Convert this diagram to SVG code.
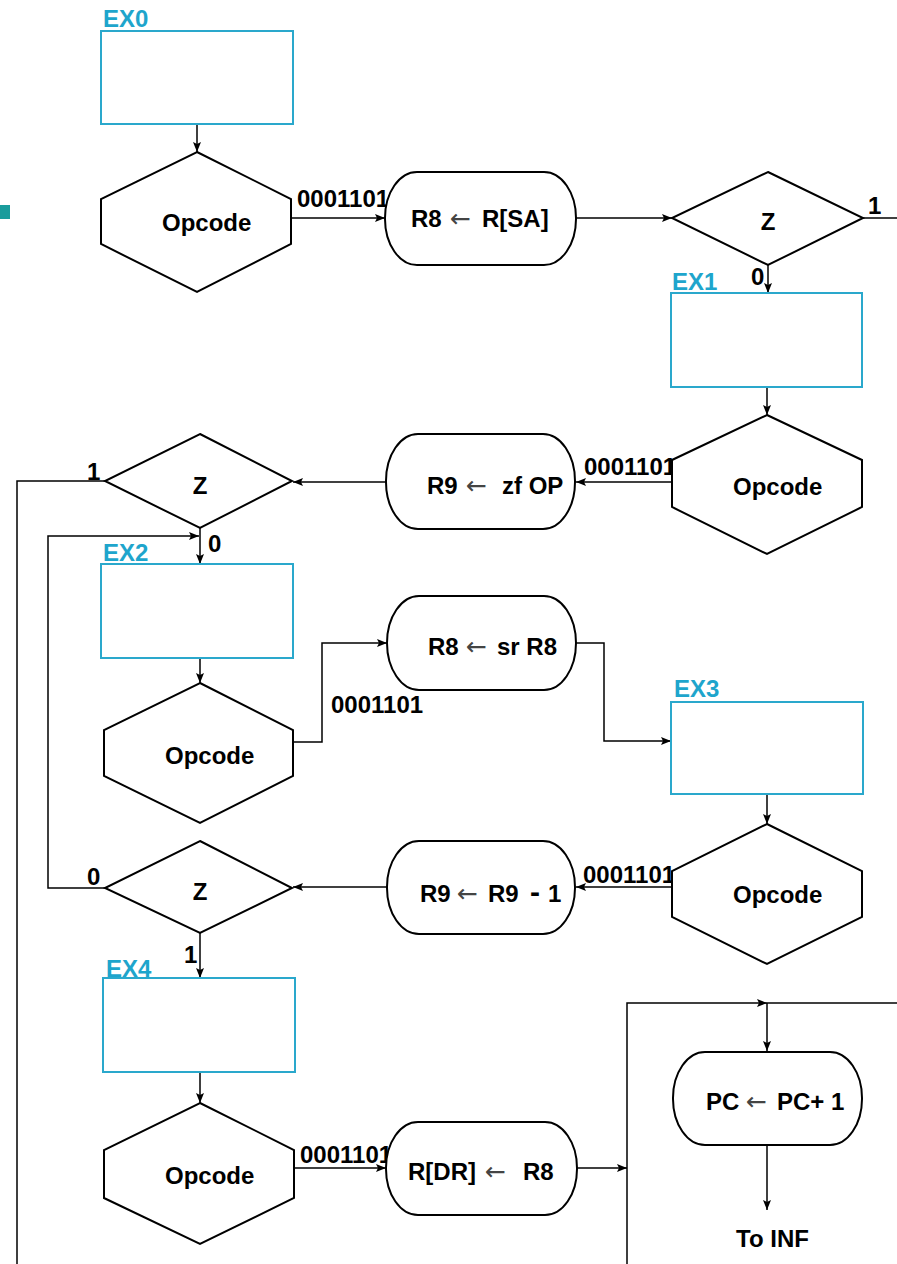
<svg xmlns="http://www.w3.org/2000/svg" width="897" height="1264" viewBox="0 0 897 1264">
<style>
.bg{fill:#fff}
.node{fill:#fff;stroke:#000;stroke-width:2}
.ex{fill:#fff;stroke:#2aa8cc;stroke-width:2}
.exl{fill:#1ea5cc;font-family:"Liberation Sans",Arial,sans-serif;font-weight:bold;font-size:24px}
.t{fill:#000;font-family:"Liberation Sans",Arial,sans-serif;font-weight:bold;font-size:24px}
.a{font-family:"DejaVu Sans",sans-serif;font-weight:normal;font-size:25px;fill:#444}
.m{font-size:30px}
.c{fill:none;stroke:#000;stroke-width:1.5}
.ca{fill:none;stroke:#000;stroke-width:1.5;marker-end:url(#ah)}
</style>
<defs>
<marker id="ah" markerUnits="userSpaceOnUse" markerWidth="11" markerHeight="8" refX="10" refY="4" orient="auto">
<path d="M0,0 L10,4 L0,8 L2,4 z" fill="#000"/>
</marker>
</defs>
<rect class="bg" x="0" y="0" width="897" height="1264"/>
<rect x="0" y="205" width="10" height="14" fill="#1a9c9c"/>

<g id="connectors">
<path class="ca" d="M197,124 V152"/>
<path class="ca" d="M291,218 H385"/>
<path class="ca" d="M576,218 H672"/>
<path class="c" d="M863,218 H897"/>
<path class="ca" d="M768,265 V293"/>
<path class="ca" d="M767,387 V415"/>
<path class="ca" d="M672,482 H576"/>
<path class="ca" d="M386,482 H293"/>
<path class="c" d="M105,481 H17 V1264"/>
<path class="ca" d="M200,528 V564"/>
<path class="ca" d="M105,888 H48 V536 H199"/>
<path class="ca" d="M200,658 V683"/>
<path class="ca" d="M293,742 H322 V643 H387"/>
<path class="ca" d="M576,643 H604 V741 H671"/>
<path class="ca" d="M767,794 V824"/>
<path class="ca" d="M672,887 H576"/>
<path class="ca" d="M387,887 H293"/>
<path class="ca" d="M200,933 V978"/>
<path class="ca" d="M200,1072 V1103"/>
<path class="ca" d="M294,1168 H386"/>
<path class="ca" d="M577,1168 H627"/>
<path class="ca" d="M627,1264 V1003 H767"/>
<path class="c" d="M767,1003 H897"/>
<path class="ca" d="M767,1003 V1051"/>
<path class="ca" d="M767,1145 V1210"/>
<text class="t" x="297" y="207">0001101</text>
<text class="t" x="868" y="214">1</text>
<text class="t" x="751" y="285">0</text>
<text class="t" x="584" y="475">0001101</text>
<text class="t" x="87" y="480">1</text>
<text class="t" x="208" y="552">0</text>
<text class="t" x="331" y="713">0001101</text>
<text class="t" x="583" y="883">0001101</text>
<text class="t" x="87" y="885">0</text>
<text class="t" x="184" y="963">1</text>
<text class="t" x="300" y="1163">0001101</text>
</g>

<g id="ex0">
<rect class="ex" x="101" y="31" width="192" height="93"/>
<text class="exl" x="103" y="27">EX0</text>
</g>
<g id="opcode0">
<polygon class="node" points="197,152 291,199 291,244 197,292 101,244 101,199"/>
<text class="t" x="162" y="231">Opcode</text>
</g>
<g id="r8_rsa">
<rect class="node" x="385" y="172" width="191" height="93" rx="32" ry="46"/>
<text class="t" y="227"><tspan x="411">R8</tspan><tspan class="a" x="450">←</tspan><tspan x="482">R[SA]</tspan></text>
</g>
<g id="z0">
<polygon class="node" points="768,172 863,218 768,265 672,218"/>
<text class="t" x="768" y="230" text-anchor="middle">Z</text>
</g>
<g id="ex1">
<rect class="ex" x="671" y="293" width="191" height="94"/>
<text class="exl" x="672" y="290">EX1</text>
</g>
<g id="opcode1">
<polygon class="node" points="767,415 862,460 862,507 767,554 672,507 672,460"/>
<text class="t" x="733" y="495">Opcode</text>
</g>
<g id="r9_zfop">
<rect class="node" x="386" y="434" width="189" height="95" rx="32" ry="47"/>
<text class="t" y="494"><tspan x="427">R9</tspan><tspan class="a" x="466">←</tspan><tspan x="502">zf OP</tspan></text>
</g>
<g id="z1">
<polygon class="node" points="200,434 292,481 200,528 105,481"/>
<text class="t" x="200" y="494" text-anchor="middle">Z</text>
</g>
<g id="ex2">
<rect class="ex" x="101" y="564" width="192" height="94"/>
<text class="exl" x="103" y="561">EX2</text>
</g>
<g id="opcode2">
<polygon class="node" points="200,683 293,730 293,776 200,823 104,776 104,730"/>
<text class="t" x="165" y="764">Opcode</text>
</g>
<g id="r8_srr8">
<rect class="node" x="387" y="596" width="189" height="94" rx="32" ry="47"/>
<text class="t" y="655"><tspan x="428">R8</tspan><tspan class="a" x="466">←</tspan><tspan x="497">sr R8</tspan></text>
</g>
<g id="ex3">
<rect class="ex" x="671" y="702" width="192" height="92"/>
<text class="exl" x="674" y="697">EX3</text>
</g>
<g id="opcode3">
<polygon class="node" points="767,824 862,871 862,917 767,964 672,917 672,871"/>
<text class="t" x="733" y="903">Opcode</text>
</g>
<g id="r9_dec">
<rect class="node" x="387" y="841" width="188" height="93" rx="32" ry="46"/>
<text class="t" y="902"><tspan x="420">R9</tspan><tspan class="a" x="457">←</tspan><tspan x="488">R9</tspan><tspan class="m" x="530">-</tspan><tspan x="548">1</tspan></text>
</g>
<g id="z2">
<polygon class="node" points="200,841 292,888 200,933 105,888"/>
<text class="t" x="200" y="900" text-anchor="middle">Z</text>
</g>
<g id="ex4">
<rect class="ex" x="103" y="978" width="192" height="94"/>
<text class="exl" x="106" y="977">EX4</text>
</g>
<g id="opcode4">
<polygon class="node" points="200,1103 294,1150 294,1198 200,1244 104,1198 104,1150"/>
<text class="t" x="165" y="1184">Opcode</text>
</g>
<g id="rdr_r8">
<rect class="node" x="386" y="1122" width="191" height="93" rx="32" ry="46"/>
<text class="t" y="1180"><tspan x="408">R[DR]</tspan><tspan class="a" x="485">←</tspan><tspan x="523">R8</tspan></text>
</g>
<g id="pc_inc">
<rect class="node" x="673" y="1052" width="189" height="93" rx="32" ry="46"/>
<text class="t" y="1110"><tspan x="706">PC</tspan><tspan class="a" x="746">←</tspan><tspan x="777">PC+ 1</tspan></text>
</g>
<g id="to_inf">
<text class="t" x="736" y="1247">To INF</text>
</g>
</svg>
